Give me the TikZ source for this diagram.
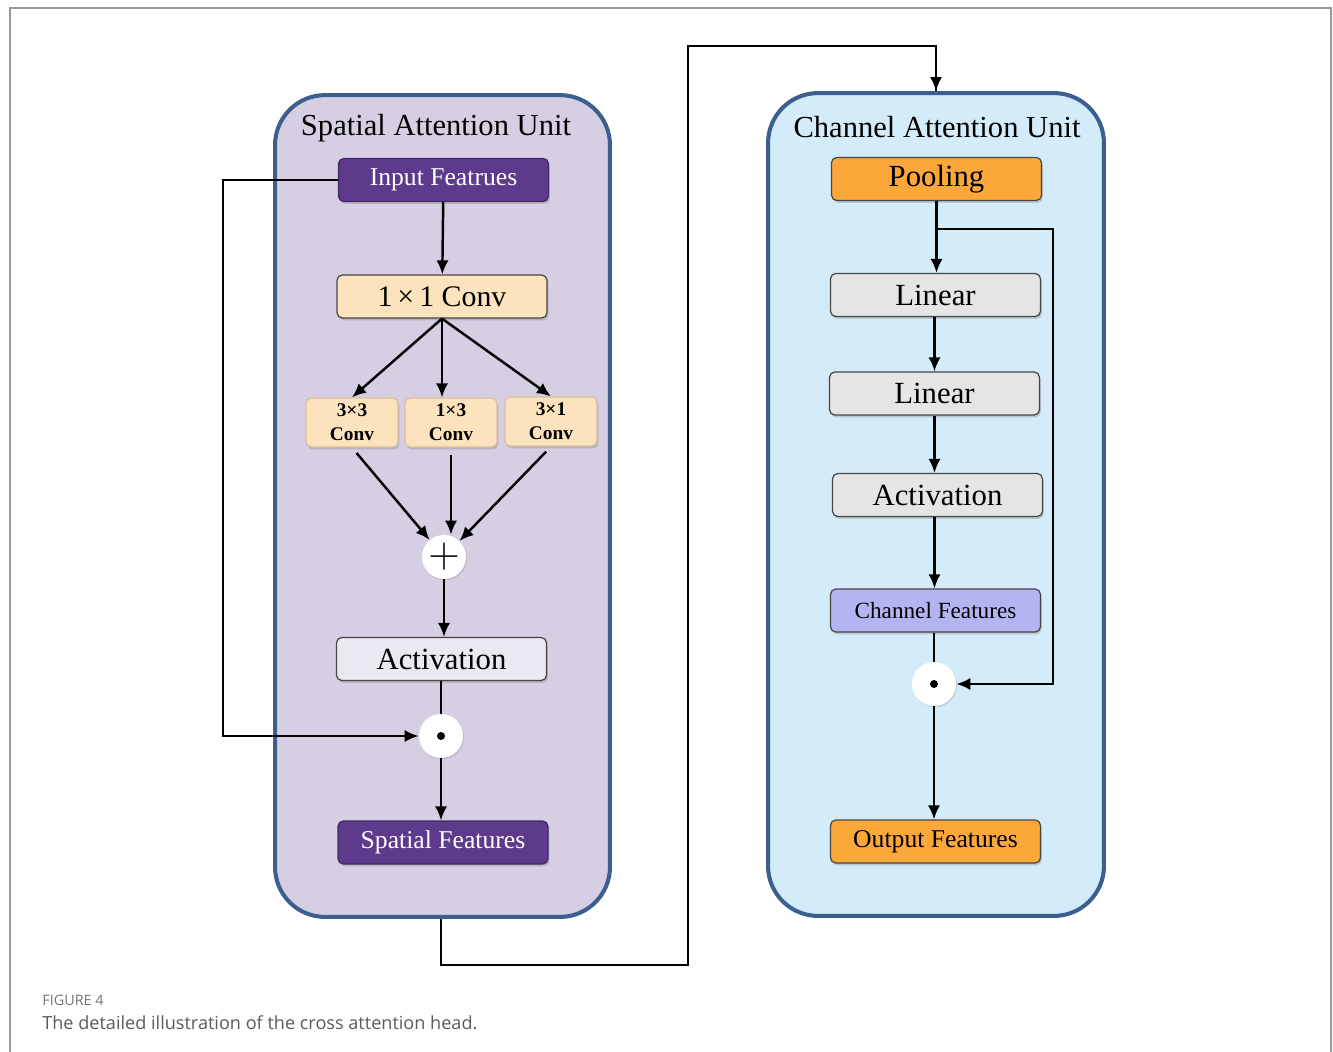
\documentclass[tikz,border=0pt]{standalone}
\usepackage{fontspec}
\setmainfont{Liberation Serif}
\newfontfamily\capfont{Open Sans}
\usetikzlibrary{arrows.meta,shadows}
\definecolor{unitblue}{HTML}{3B5F8E}
\definecolor{spatfill}{HTML}{D6CEE2}
\definecolor{chanfill}{HTML}{D4ECF9}
\definecolor{featpurple}{HTML}{5E3A8C}
\definecolor{convpeach}{HTML}{FDE3BD}
\definecolor{lingray}{HTML}{E5E5E5}
\definecolor{actlav}{HTML}{ECE8F1}
\definecolor{chanviolet}{HTML}{B4B4F2}
\definecolor{poolorange}{HTML}{FBA73A}
\definecolor{capgray}{HTML}{5A5A5A}
\tikzset{
  unitbox/.style={draw=unitblue, line width=2.3pt, rounded corners=1cm, inner sep=0pt},
  unittitle/.style={font=\fontsize{17.4}{20}\selectfont},
  blockbox/.style={draw=gray!55!black, line width=0.7pt, rounded corners=3pt,
    minimum width=4.2cm, minimum height=0.86cm, inner sep=0pt,
    drop shadow={opacity=0.35, shadow xshift=0.8pt, shadow yshift=-1.4pt}},
  featbox/.style={blockbox, fill=featpurple, draw=featpurple!70!black, text=white,
    font=\fontsize{14.6}{16}\selectfont},
  convbox/.style={blockbox, fill=convpeach, font=\fontsize{17}{20}\selectfont},
  smallconv/.style={blockbox, fill=convpeach, draw=convpeach!85!black,
    minimum width=1.84cm, minimum height=0.98cm, align=center,
    font=\bfseries\fontsize{11}{13.5}\selectfont},
  grayblock/.style={blockbox, fill=lingray, font=\fontsize{17.5}{20}\selectfont},
  orangebox/.style={blockbox, fill=poolorange},
  opcircle/.style={circle, fill=white, minimum size=0.88cm, inner sep=0pt,
    drop shadow={opacity=0.25, shadow xshift=0.6pt, shadow yshift=-0.8pt}},
  flow/.style={line width=1.4pt, -{Latex[length=8pt,width=7pt]}},
  link/.style={line width=1.4pt},
}
\begin{document}
\begin{tikzpicture}[x=0.02cm,y=-0.02cm]
  \useasboundingbox (0,0) rectangle (1333,1052);
  % outer frame
  \draw[gray!80, line width=1.1pt] (10,1052) -- (10,8) -- (1331,8) -- (1331,1052);

  % the two units
  \node[unitbox, fill=spatfill, minimum width=6.7cm, minimum height=16.44cm] (spatU) at (442.5,506) {};
  \node[unitbox, fill=chanfill, minimum width=6.72cm, minimum height=16.46cm] (chanU) at (936,504.5) {};
  \node[unittitle] (spatT) at (436,128) {Spatial Attention Unit};
  \node[unittitle] (chanT) at (937,127) {Channel Attention Unit};

  % spatial attention unit
  \node[featbox] (inF) at (443.5,180) {Input Featrues};
  \node[convbox] (conv1) at (442,296.5) {1\,×\,1 Conv};
  \node[smallconv] (c33) at (352,422.5) {3×3\\Conv};
  \node[smallconv] (c13) at (451,422.5) {1×3\\Conv};
  \node[smallconv] (c31) at (551,421.5) {3×1\\Conv};
  \node[opcircle] (plus) at (444,557) {\fontsize{26}{26}\selectfont$+$};
  \node[blockbox, fill=actlav, font=\fontsize{17.5}{20}\selectfont] (actL) at (441.5,659) {Activation};
  \node[opcircle] (dotL) at (441,736) {};
  \fill (dotL) circle (4);
  \node[featbox] (spF) at (443,842.5) {Spatial Features};

  % channel attention unit
  \node[orangebox, font=\fontsize{17.5}{20}\selectfont] (pool) at (936.5,179) {Pooling};
  \node[grayblock] (lin1) at (935.5,295) {Linear};
  \node[grayblock] (lin2) at (934.5,393.5) {Linear};
  \node[grayblock] (actR) at (937.5,495) {Activation};
  \node[blockbox, fill=chanviolet, font=\fontsize{13.2}{15}\selectfont] (chF) at (935.5,610.5) {Channel Features};
  \node[opcircle] (dotR) at (934,684) {};
  \fill (dotR) circle (4);
  \node[orangebox, font=\fontsize{14.6}{16}\selectfont] (outF) at (935.5,841.5) {Output Features};

  \coordinate (skipL) at (223,178);
  \coordinate (bendTop) at (688,46);
  \coordinate (brR) at (1053,229);

  % connectors, spatial side
  \draw[flow] (inF) -- (conv1);
  \draw[flow] (conv1.south) -- (c33.north);
  \draw[flow] (conv1.south) -- (conv1.south |- c13.north);
  \draw[flow] (conv1.south) -- (c31.north);
  \draw[flow, shorten <=4pt] (c33.south) -- (plus);
  \draw[flow, shorten <=4pt] (c13.south) -- (c13.south |- plus.north);
  \draw[flow, shorten <=4pt] (c31.south) -- (plus);
  \draw[flow] (plus) -- (plus |- actL.north);
  \draw[link] (actL.south -| dotL) -- (dotL.north);
  \draw[flow] (dotL.south) -- (spF.north -| dotL);
  \draw[flow] (inF.west) -- (inF.west -| skipL) |- (dotL.west);

  % from spatial unit to channel unit
  \draw[link] (spatU.south -| dotL) -- ++(0,46) -| (bendTop) -| (chanU.north);
  \draw[flow] (chanU.north) ++(0,-46) -- (chanU.north);

  % connectors, channel side
  \draw[flow] (pool) -- (pool |- lin1.north);
  \draw[flow] (pool.south |- brR) -- (brR) |- (dotR.east);
  \draw[flow] (lin1.south -| lin2) -- (lin2.north);
  \draw[flow] (lin2.south) -- (lin2.south |- actR.north);
  \draw[flow] (lin2.south |- actR.south) -- (lin2.south |- chF.north);
  \draw[link] (chF.south -| dotR) -- (dotR.north);
  \draw[flow] (dotR.south) -- (outF.north -| dotR);

  % caption
  \node[anchor=base west, inner sep=0pt, text=capgray!85, font=\capfont\fontsize{8.2}{9}\selectfont] (figno) at (42,1005) {FIGURE 4};
  \node[anchor=base west, inner sep=0pt, text=capgray, font=\capfont\fontsize{10.3}{12}\selectfont] (captxt) at (42,1029) {The detailed illustration of the cross attention head.};
\end{tikzpicture}
\end{document}
